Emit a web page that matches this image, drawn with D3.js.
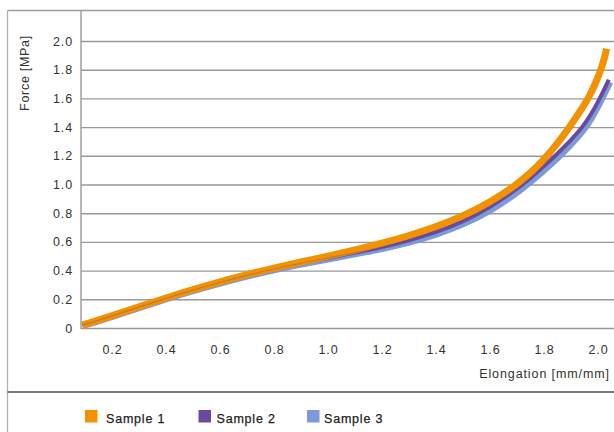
<!DOCTYPE html>
<html>
<head>
<meta charset="utf-8">
<script src="https://cdn.jsdelivr.net/npm/d3@7"></script>
<style>
  html, body { margin: 0; padding: 0; background: #fff; }
  svg { display: block; }
  text { font-family: "Liberation Sans", Arial, Helvetica, sans-serif; }
</style>
</head>
<body>
<svg id="chart" width="614" height="432"></svg>
<script>
// ---------- data ----------
const seriesNames = ["Sample 1", "Sample 2", "Sample 3"];
const seriesColors = ["#F39200", "#6A4A9C", "#7B9AD6"];
const xTicks = [0.2, 0.4, 0.6, 0.8, 1.0, 1.2, 1.4, 1.6, 1.8, 2.0];
const yTicks = [0, 0.2, 0.4, 0.6, 0.8, 1.0, 1.2, 1.4, 1.6, 1.8, 2.0];
const xTitle = "Elongation [mm/mm]";
const yTitle = "Force [MPa]";

const sample1 = [
  [0.09,0.02],[0.2,0.085],[0.3,0.148],[0.4,0.21],[0.5,0.268],[0.6,0.322],[0.7,0.372],
  [0.8,0.418],[0.9,0.46],[1.0,0.50],[1.1,0.543],[1.2,0.59],[1.3,0.643],[1.4,0.705],
  [1.5,0.78],[1.6,0.875],[1.7,1.0],[1.75,1.08],[1.8,1.175],[1.85,1.285],[1.9,1.415],
  [1.95,1.555],[1.975,1.64],[2.0,1.745],[2.015,1.825],[2.025,1.89],[2.032,1.946]
];
const sample2 = [
  [0.09,0.02],[0.2,0.083],[0.3,0.146],[0.4,0.207],[0.5,0.265],[0.6,0.318],[0.7,0.367],
  [0.8,0.412],[0.9,0.452],[1.0,0.488],[1.1,0.525],[1.2,0.563],[1.3,0.61],[1.4,0.667],
  [1.5,0.74],[1.6,0.84],[1.7,0.97],[1.72,1.0],[1.75,1.045],[1.8,1.128],[1.85,1.215],
  [1.9,1.31],[1.945,1.405],[1.975,1.49],[2.004,1.59],[2.025,1.67],[2.04,1.73]
];
const sample3 = [
  [0.09,0.016],[0.2,0.079],[0.3,0.142],[0.4,0.203],[0.5,0.261],[0.6,0.314],[0.7,0.363],
  [0.8,0.407],[0.9,0.446],[1.0,0.481],[1.1,0.517],[1.2,0.553],[1.3,0.597],[1.4,0.652],
  [1.5,0.722],[1.6,0.815],[1.7,0.945],[1.72,0.975],[1.75,1.02],[1.8,1.1],[1.85,1.185],
  [1.9,1.28],[1.945,1.375],[1.975,1.46],[2.004,1.56],[2.025,1.64],[2.044,1.715]
];

// ---------- layout ----------
const W = 614, H = 432;
const axisX = 81, frameTop = 10.5, frameLeft = 7.5, sepY = 392;
const svg = d3.select("#chart");

const x = d3.scaleLinear().domain([0.2, 2.0]).range([112, 598]);
const y = d3.scaleLinear().domain([0, 2.0]).range([328, 41]);

// frame
svg.append("line").attr("x1", frameLeft).attr("x2", W).attr("y1", frameTop).attr("y2", frameTop)
  .attr("stroke", "#9a9a9a").attr("stroke-width", 1.3);
svg.append("line").attr("x1", frameLeft).attr("x2", frameLeft).attr("y1", frameTop).attr("y2", H)
  .attr("stroke", "#b0b0b0").attr("stroke-width", 1.3);
svg.append("line").attr("x1", frameLeft).attr("x2", W).attr("y1", sepY).attr("y2", sepY)
  .attr("stroke", "#7a7a7a").attr("stroke-width", 2);

// y axis with gridlines
const yAxis = d3.axisLeft(y).tickValues(yTicks)
  .tickFormat(d => d === 0 ? "0" : d.toFixed(1))
  .tickSize(-(W - axisX)).tickSizeOuter(0).tickPadding(8);
const gy = svg.append("g").attr("transform", `translate(${axisX},0)`).call(yAxis);
gy.select(".domain").remove();
gy.selectAll(".tick line").attr("stroke", "#999").attr("stroke-width", 1.4);
gy.selectAll(".tick text").attr("fill", "#333").attr("font-size", 12.5)
  .attr("letter-spacing", "0.9px").attr("font-family", "Liberation Sans, Arial, sans-serif");

// y axis line
svg.append("line").attr("x1", axisX).attr("x2", axisX).attr("y1", frameTop).attr("y2", y(0) + 1)
  .attr("stroke", "#9a9a9a").attr("stroke-width", 1.4);

// x axis labels
const xAxis = d3.axisBottom(x).tickValues(xTicks).tickFormat(d => d.toFixed(1))
  .tickSize(0).tickPadding(17);
const gx = svg.append("g").attr("transform", `translate(0,${y(0)})`).call(xAxis);
gx.select(".domain").remove();
gx.selectAll(".tick text").attr("fill", "#333").attr("font-size", 12.5)
  .attr("letter-spacing", "0.9px").attr("font-family", "Liberation Sans, Arial, sans-serif");

// titles
svg.append("text").attr("x", 610).attr("y", 378).attr("text-anchor", "end")
  .attr("font-size", 12.5).attr("letter-spacing", "0.9px").attr("fill", "#333").text(xTitle);
svg.append("text").attr("transform", "translate(28.5,73) rotate(-90)").attr("text-anchor", "middle")
  .attr("font-size", 12.5).attr("letter-spacing", "0.7px").attr("fill", "#333").text(yTitle);

// lines
const line = d3.line().x(d => x(d[0])).y(d => y(d[1])).curve(d3.curveBasis);
const widths = [7, 4, 7];
const drawOrder = [2, 1, 0];
const data = [sample1, sample2, sample3];
drawOrder.forEach(i => {
  svg.append("path").datum(data[i]).attr("d", line)
    .attr("fill", "none").attr("stroke", seriesColors[i])
    .attr("stroke-width", widths[i]).attr("stroke-linejoin", "round").attr("stroke-linecap", "butt");
});
// thin trace of Sample 2 showing through Sample 1
svg.append("path").datum(sample2).attr("d", line)
  .attr("fill", "none").attr("stroke", seriesColors[1]).attr("stroke-opacity", 0.35)
  .attr("stroke-width", 1.2);

// legend
const legendSquareX = [85, 198.5, 307];
const legendTextX = [106, 216.5, 324];
seriesNames.forEach((name, i) => {
  svg.append("rect").attr("x", legendSquareX[i]).attr("y", 410).attr("width", 12.5).attr("height", 12.5)
    .attr("fill", seriesColors[i]);
  svg.append("text").attr("x", legendTextX[i]).attr("y", 423)
    .attr("font-size", 12.5).attr("letter-spacing", "0.8px").attr("fill", "#222")
    .attr("stroke", "#222").attr("stroke-width", 0.25).text(name);
});
</script>
</body>
</html>
